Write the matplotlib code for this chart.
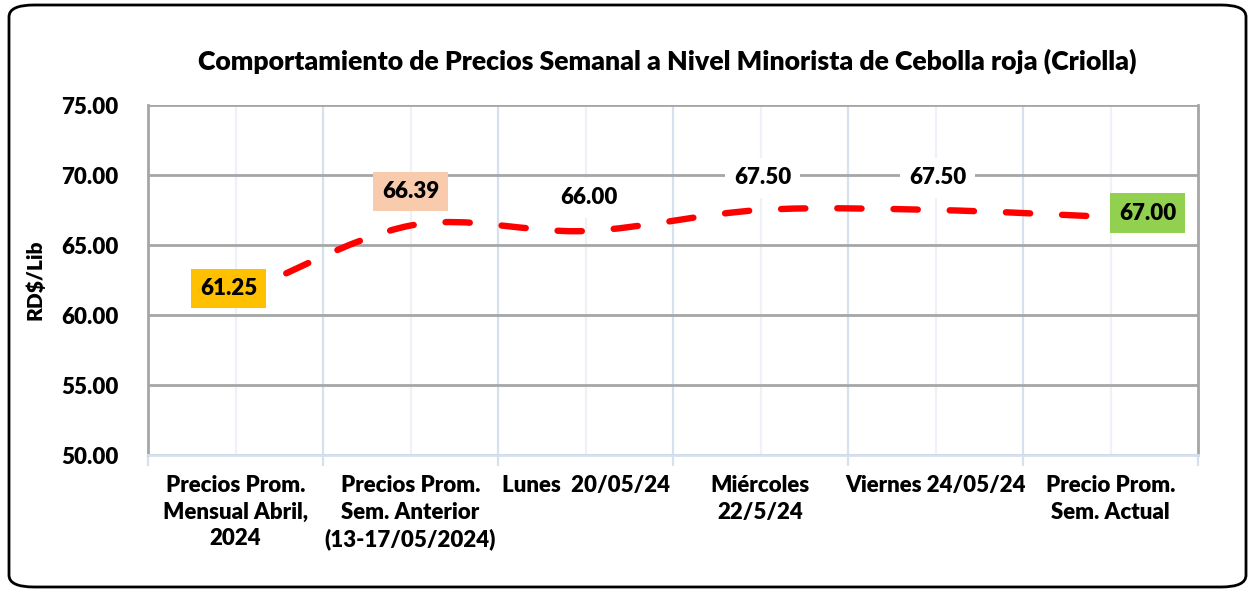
import matplotlib
matplotlib.use("Agg")
import matplotlib.pyplot as plt
from matplotlib.path import Path
from matplotlib.patches import PathPatch, FancyBboxPatch
import numpy as np

categories = ["Precios Prom.\nMensual Abril,\n2024", "Precios Prom.\nSem. Anterior\n(13-17/05/2024)",
              "Lunes  20/05/24", "Miércoles\n22/5/24", "Viernes 24/05/24", "Precio Prom.\nSem. Actual"]
values = [61.25, 66.39, 66.00, 67.50, 67.50, 67.00]
labels = ["61.25", "66.39", "66.00", "67.50", "67.50", "67.00"]
label_bg = ["#FFC000", "#F8CBAD", "white", "white", "white", "#92D050"]
yticks = [50, 55, 60, 65, 70, 75]

plt.rcParams['font.family'] = ['Lato', 'DejaVu Sans']
FW = "heavy"

W, H = 1255, 592
fig = plt.figure(figsize=(W/100, H/100), dpi=100)
ax = fig.add_axes([148/W, 1-455/H, (1198-148)/W, (455-105)/H])

n = len(values)
ax.set_xlim(0, n)
ax.set_ylim(50, 75)

# gridlines
for y in yticks:
    ax.axhline(y, color="#A6A6A6", lw=2, zorder=1)
for i in range(1, n):
    ax.axvline(i, color="#D6E1F0", lw=1.6, zorder=0.5)
for i in range(n):
    ax.axvline(i + 0.5, color="#EEF2F8", lw=1.6, zorder=0.5)

# smoothed line (Bezier through data points)
xs = np.arange(n) + 0.5
pts = list(zip(xs, values))
verts = [pts[0]]
codes = [Path.MOVETO]
for i in range(n - 1):
    p0 = pts[i - 1] if i > 0 else pts[i]
    p1 = pts[i]
    p2 = pts[i + 1]
    p3 = pts[i + 2] if i + 2 < n else pts[i + 1]
    c1 = (p1[0] + (p2[0] - p0[0]) / 6, p1[1] + (p2[1] - p0[1]) / 6)
    c2 = (p2[0] - (p3[0] - p1[0]) / 6, p2[1] - (p3[1] - p1[1]) / 6)
    verts += [c1, c2, p2]
    codes += [Path.CURVE4] * 3
patch = PathPatch(Path(verts, codes), facecolor="none", edgecolor="#FF0000", lw=4.6,
                  linestyle=(0, (3.8, 5.0)), capstyle="round", zorder=3)
ax.add_patch(patch)

# data labels
offsets = [(-7, 9), (0, 34), (3, 33), (2, 32), (2, 32), (37, 4)]
for i in range(n):
    dx, dy = offsets[i]
    ax.annotate(labels[i], (xs[i], values[i]), xytext=(dx, dy), textcoords="offset pixels",
                ha="center", va="center", fontsize=16, fontweight=FW, color="black",
                bbox=dict(boxstyle="square,pad=0.42", fc=label_bg[i], ec="none"), zorder=5)

# axes styling
ax.spines["top"].set_visible(False)
ax.spines["left"].set_color("#A6A6A6")
ax.spines["left"].set_linewidth(2)
ax.spines["right"].set_color("#A6A6A6")
ax.spines["right"].set_linewidth(2)
ax.spines["bottom"].set_color("#D6E1F0")
ax.spines["bottom"].set_linewidth(2)

ax.set_yticks(yticks)
ax.set_yticklabels([f"{v:.2f}" for v in yticks], fontsize=16, fontweight=FW)
ax.tick_params(axis="y", length=0, pad=21)
ax.set_xticks(range(0, n + 1))
ax.set_xticklabels([])
ax.tick_params(axis="x", which="major", length=8, width=1.6, color="#D6E1F0", direction="out")
for i, c in enumerate(categories):
    ax.text(xs[i], -0.058, c, transform=ax.get_xaxis_transform(), ha="center", va="top",
            fontsize=16, fontweight=FW, linespacing=1.32)

ax.set_ylabel("RD$/Lib", fontsize=15, fontweight=FW)
ax.yaxis.set_label_coords(-(148-45)/1050, 0.5)

fig.text(667/W, 1-61/H, "Comportamiento de Precios Semanal a Nivel Minorista de Cebolla roja (Criolla)",
         ha="center", va="center", fontsize=19.2, fontweight=FW)

# rounded border
border = FancyBboxPatch((9/W, 5/H), (1246-9)/W, (587-5)/H, boxstyle="round,pad=0,rounding_size=0.02",
                        transform=fig.transFigure, fc="none", ec="black", lw=2)
fig.patches.append(border)

fig.savefig("out.png", dpi=100)
